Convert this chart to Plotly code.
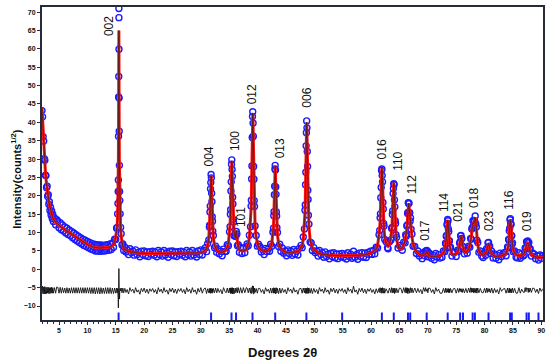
import plotly.graph_objects as go

# ---------------- data ----------------
# low-angle background (2-15 deg)
x_low = [2.0, 2.1, 2.2, 2.3, 2.4, 2.5, 2.6, 2.7, 2.8, 2.9, 3.0, 3.1, 3.2, 3.3, 3.4, 3.5, 3.6, 3.7, 3.8, 3.9, 4.0,
         4.2, 4.4, 4.6, 4.8, 5.0, 5.2, 5.4, 5.6, 5.8, 6.0, 6.2, 6.4, 6.6, 6.8, 7.0, 7.2, 7.4, 7.6, 7.8, 8.0,
         8.2, 8.4, 8.6, 8.8, 9.0, 9.2, 9.4, 9.6, 9.8, 10.0, 10.2, 10.4, 10.6, 10.8, 11.0, 11.2, 11.4, 11.6, 11.8, 12.0,
         12.2, 12.4, 12.6, 12.8, 13.0, 13.2, 13.4, 13.6, 13.8, 14.0, 14.2, 14.4, 14.6, 14.8, 15.0]
calc_low = [44.0, 40.3, 37.0, 33.9, 31.0, 28.6, 26.5, 24.6, 23.0, 21.7, 20.5, 19.4, 18.5, 17.6, 16.8, 16.1, 15.5, 15.0, 14.5, 14.1, 13.7,
            13.2, 12.8, 12.5, 12.2, 12.0, 11.8, 11.5, 11.3, 11.0, 10.8, 10.6, 10.4, 10.2, 10.0, 9.8, 9.5, 9.3, 9.1, 8.8, 8.6,
            8.4, 8.2, 8.0, 7.8, 7.6, 7.4, 7.2, 7.1, 6.9, 6.8, 6.6, 6.5, 6.3, 6.2, 6.1, 6.0, 5.9, 5.9, 5.8, 5.8,
            5.8, 5.8, 5.8, 5.8, 5.8, 5.8, 5.9, 5.9, 6.0, 6.1, 6.2, 6.5, 6.8, 7.5, 8.8]
obs_low = [43.2, 41.5, 36.1, 34.9, 30.1, 29.7, 25.6, 25.5, 22.2, 22.6, 19.8, 20.3, 17.7, 18.4, 16.0, 16.9, 14.8, 15.9, 13.8, 14.9, 13.0,
           14.0, 12.1, 13.5, 13.1, 11.3, 12.7, 10.8, 12.1, 10.4, 11.5, 9.9, 11.2, 9.5, 10.7, 9.1, 10.3, 8.6, 9.9, 8.1, 9.4,
           7.7, 9.0, 7.3, 8.6, 6.9, 8.2, 6.5, 7.9, 6.2, 7.6, 5.9, 7.3, 5.5, 7.0, 5.3, 6.8, 5.0, 6.7, 5.0, 6.6,
           4.9, 6.6, 5.0, 6.5, 5.0, 6.6, 5.1, 6.7, 5.2, 6.9, 5.4, 7.2, 6.0, 8.2, 8.1]

# 002 reflection
x_002 = [15.15, 15.25, 15.33, 15.39, 15.43, 15.46, 15.49, 15.51, 15.53, 15.55, 15.56, 15.57, 15.59, 15.61, 15.64, 15.67,
         15.71, 15.77, 15.85, 15.95, 16.1, 16.25, 16.4]
calc_002 = [10.5, 12.0, 14.5, 18.5, 23.5, 29.0, 37.5, 45.0, 54.0, 65.0, 63.0, 56.0, 46.0, 37.5, 29.0, 23.5,
            18.5, 14.5, 11.5, 9.0, 7.2, 6.2, 5.7]
obs_002 = [11.2, 11.4, 15.1, 17.9, 21.2, 24.3, 36.2, 46.9, 52.5, 71.0, 68.5, 59.9, 46.6, 37.6, 28.3, 21.2,
           18.7, 15.1, 11.4, 9.7, 6.6, 6.9, 5.1]

# background 16.6-30.5
x_bg1 = [16.6, 16.8, 17.0, 17.25, 17.5, 17.75, 18.0, 18.25, 18.5, 18.75, 19.0, 19.25, 19.5, 19.75,
         20.0, 20.25, 20.5, 20.75, 21.0, 21.25, 21.5, 21.75, 22.0, 22.25, 22.5, 22.75, 23.0, 23.25, 23.5, 23.75,
         24.0, 24.25, 24.5, 24.75, 25.0, 25.25, 25.5, 25.75, 26.0, 26.25, 26.5, 26.75, 27.0, 27.25, 27.5, 27.75,
         28.0, 28.25, 28.5, 28.75, 29.0, 29.25, 29.5, 29.75, 30.0, 30.25, 30.5]
calc_bg1 = [5.4, 5.2, 5.0, 4.9, 4.8, 4.7, 4.6, 4.55, 4.5, 4.45, 4.4, 4.4, 4.35, 4.35,
            4.3, 4.3, 4.3, 4.3, 4.3, 4.3, 4.3, 4.3, 4.3, 4.3, 4.3, 4.3, 4.3, 4.3, 4.3, 4.3,
            4.3, 4.3, 4.3, 4.3, 4.3, 4.3, 4.3, 4.3, 4.3, 4.3, 4.3, 4.3, 4.3, 4.3, 4.3, 4.3,
            4.3, 4.3, 4.3, 4.3, 4.35, 4.35, 4.4, 4.45, 4.5, 4.6, 4.8]
obs_bg1 = [6.0, 4.7, 5.3, 4.0, 5.6, 4.5, 5.0, 3.85, 5.3, 4.05, 4.6, 3.4, 4.95, 4.05,
           5.0, 3.7, 4.7, 3.5, 4.8, 4.1, 4.9, 3.8, 4.6, 3.4, 5.1, 4.0, 4.7, 3.6, 5.1, 3.9,
           4.5, 3.3, 4.9, 4.0, 5.0, 3.7, 4.7, 3.5, 4.8, 4.1, 4.9, 3.8, 4.6, 3.4, 5.1, 4.0,
           4.7, 3.6, 5.1, 3.9, 4.55, 3.35, 5.0, 4.05, 5.3, 3.9, 5.2]

# 004
x_004 = [30.8, 31.0, 31.2, 31.4, 31.5, 31.55, 31.6, 31.65, 31.7, 31.75, 31.8, 31.85, 31.9, 31.95, 32.0, 32.05, 32.1, 32.2, 32.4, 32.6, 32.8]
calc_004 = [5.2, 5.6, 6.5, 8.6, 10.9, 12.6, 15.0, 17.9, 21.3, 24.3, 25.5, 24.3, 21.3, 17.9, 15.0, 12.6, 10.9, 8.6, 6.5, 5.6, 5.2]
obs_004 = [5.9, 4.8, 7.0, 8.0, 11.5, 12.0, 15.6, 17.2, 21.9, 23.6, 25.8, 24.9, 20.7, 18.4, 14.3, 13.1, 10.4, 9.2, 5.9, 6.3, 4.6]

x_bg2 = [33.0, 33.25, 33.5, 33.75, 34.0, 34.25]
calc_bg2 = [4.9, 4.7, 4.6, 4.6, 4.7, 5.0]
obs_bg2 = [5.5, 4.2, 4.9, 3.7, 5.5, 4.8]

# 100 + 101
x_100 = [34.45, 34.65, 34.85, 35.05, 35.15, 35.2, 35.25, 35.3, 35.35, 35.4, 35.45, 35.5, 35.55, 35.6, 35.65, 35.7, 35.75,
         35.85, 36.05, 36.15, 36.25, 36.35, 36.45, 36.6, 36.8, 37.0, 37.25, 37.5, 37.75, 38.0]
calc_100 = [5.5, 6.0, 7.0, 9.5, 12.2, 14.3, 17.0, 20.5, 24.5, 28.0, 29.5, 28.0, 24.5, 20.5, 17.0, 14.3, 12.2,
            10.0, 8.6, 9.5, 10.5, 8.8, 7.0, 5.9, 5.3, 5.1, 5.0, 5.0, 5.1, 5.3]
obs_100 = [4.9, 6.7, 6.4, 10.2, 11.6, 15.0, 16.2, 21.3, 23.8, 28.6, 29.8, 27.2, 25.3, 19.6, 17.8, 13.6, 12.9,
           9.1, 9.3, 8.9, 10.3, 9.6, 6.4, 6.7, 4.6, 5.9, 4.3, 5.8, 4.5, 6.1]

# 012
x_012 = [38.15, 38.35, 38.55, 38.75, 38.85, 38.9, 38.95, 39.0, 39.05, 39.1, 39.15, 39.2, 39.25, 39.3, 39.35, 39.4, 39.45, 39.55, 39.75, 39.95, 40.15]
calc_012 = [6.2, 7.0, 8.6, 12.3, 16.4, 19.5, 23.7, 28.9, 35.0, 40.3, 42.5, 40.3, 35.0, 28.9, 23.7, 19.5, 16.4, 12.3, 8.6, 7.0, 6.2]
obs_012 = [6.9, 6.4, 9.3, 11.6, 17.2, 18.8, 24.6, 28.1, 35.9, 41.6, 42.9, 39.8, 36.2, 28.0, 24.5, 18.7, 17.1, 11.8, 9.2, 6.3, 6.8]

x_bg3 = [40.4, 40.65, 40.9, 41.15, 41.4, 41.65, 41.9]
calc_bg3 = [5.6, 5.2, 5.0, 4.9, 4.9, 5.0, 5.2]
obs_bg3 = [6.2, 4.7, 5.3, 4.0, 5.7, 4.8, 5.6]

# 013
x_013 = [42.1, 42.3, 42.5, 42.7, 42.8, 42.85, 42.9, 42.95, 43.0, 43.05, 43.1, 43.15, 43.2, 43.25, 43.3, 43.35, 43.4, 43.5, 43.7, 43.9, 44.1]
calc_013 = [5.6, 6.1, 7.0, 9.4, 11.9, 13.8, 16.4, 19.6, 23.3, 26.6, 28.0, 26.6, 23.3, 19.6, 16.4, 13.8, 11.9, 9.4, 7.0, 6.1, 5.6]
obs_013 = [4.9, 6.8, 6.3, 10.1, 11.2, 14.6, 15.7, 20.3, 22.6, 27.3, 28.3, 27.0, 22.4, 20.4, 15.6, 14.5, 11.3, 10.0, 6.2, 6.8, 4.9]

x_bg4 = [44.35, 44.6, 44.85, 45.1, 45.35, 45.6, 45.85, 46.1, 46.35, 46.6, 46.85, 47.1, 47.35]
calc_bg4 = [5.2, 4.9, 4.7, 4.6, 4.5, 4.5, 4.5, 4.5, 4.6, 4.6, 4.7, 4.9, 5.2]
obs_bg4 = [5.8, 4.4, 5.0, 3.7, 5.3, 4.3, 4.9, 3.8, 5.4, 4.2, 4.9, 3.9, 5.7]

# 006
x_006 = [47.65, 47.85, 48.05, 48.25, 48.35, 48.4, 48.45, 48.5, 48.55, 48.6, 48.65, 48.7, 48.75, 48.8, 48.85, 48.9, 48.95, 49.05, 49.25, 49.45, 49.65]
calc_006 = [5.9, 6.6, 8.1, 11.6, 15.4, 18.3, 22.3, 27.2, 32.9, 37.9, 40.0, 37.9, 32.9, 27.2, 22.3, 18.3, 15.4, 11.6, 8.1, 6.6, 5.9]
obs_006 = [6.5, 5.9, 8.8, 11.0, 16.1, 17.5, 23.0, 26.4, 33.6, 37.2, 40.4, 38.5, 32.1, 28.0, 21.5, 19.0, 14.7, 12.3, 7.4, 7.2, 5.1]

x_bg5 = [49.9, 50.15, 50.4, 50.65, 50.9, 51.15, 51.4, 51.65, 51.9, 52.15, 52.4, 52.65, 52.9, 53.15, 53.4, 53.65,
         53.9, 54.15, 54.4, 54.65, 54.9, 55.15, 55.4, 55.65, 55.9, 56.15, 56.4, 56.65, 56.9, 57.15, 57.4, 57.65,
         57.9, 58.15, 58.4, 58.65, 58.9, 59.15, 59.4, 59.65, 59.9, 60.15, 60.4, 60.65]
calc_bg5 = [5.3, 5.0, 4.7, 4.5, 4.3, 4.2, 4.1, 4.0, 3.95, 3.9, 3.9, 3.85, 3.8, 3.8, 3.8, 3.75,
            3.75, 3.7, 3.7, 3.7, 3.7, 3.7, 3.7, 3.7, 3.7, 3.7, 3.7, 3.7, 3.7, 3.7, 3.75, 3.75,
            3.8, 3.8, 3.85, 3.9, 3.95, 4.0, 4.1, 4.2, 4.35, 4.55, 4.8, 5.1]
obs_bg5 = [5.9, 4.5, 5.0, 3.6, 5.1, 4.0, 4.5, 3.3, 4.75, 3.5, 4.1, 2.85, 4.4, 3.5, 4.5, 3.15,
           4.15, 2.9, 4.2, 3.5, 4.3, 3.2, 4.0, 2.8, 4.5, 3.5, 4.1, 3.0, 4.9, 3.3, 3.95, 2.75,
           4.4, 3.5, 4.55, 3.3, 4.35, 3.2, 4.6, 4.0, 4.95, 4.05, 5.1, 4.2]

# 016
x_016 = [60.9, 61.15, 61.4, 61.52, 61.59, 61.65, 61.71, 61.78, 61.84, 61.9, 61.96, 62.02, 62.09, 62.15, 62.21, 62.28, 62.4, 62.65, 62.9]
calc_016 = [5.5, 6.4, 8.8, 11.1, 13.2, 15.8, 18.8, 23.0, 26.2, 27.5, 26.2, 23.0, 18.8, 15.8, 13.2, 11.1, 8.8, 7.0, 6.5]
obs_016 = [6.0, 5.8, 9.4, 10.6, 14.0, 15.1, 19.5, 22.3, 26.9, 27.3, 25.5, 23.8, 18.2, 16.4, 12.5, 11.8, 8.1, 7.5, 5.9]

# 110
x_110 = [63.0, 63.25, 63.5, 63.62, 63.69, 63.75, 63.81, 63.88, 63.94, 64.0, 64.06, 64.12, 64.19, 64.25, 64.31, 64.38, 64.5, 64.75, 65.0]
calc_110 = [6.3, 6.8, 8.6, 10.3, 12.0, 14.1, 16.5, 19.9, 22.5, 23.6, 22.5, 19.7, 16.3, 13.8, 11.8, 10.0, 8.1, 6.4, 5.8]
obs_110 = [5.6, 7.5, 8.0, 11.1, 11.4, 14.9, 15.9, 20.6, 22.0, 23.3, 23.0, 18.9, 17.0, 13.2, 12.5, 9.4, 8.7, 5.8, 6.5]

# 112
x_112 = [65.25, 65.5, 65.75, 66.0, 66.1, 66.2, 66.3, 66.38, 66.44, 66.5, 66.56, 66.62, 66.68, 66.75, 66.81, 66.88, 66.95,
         67.05, 67.2, 67.4, 67.7, 68.0]
calc_112 = [5.5, 5.9, 6.6, 7.8, 8.6, 9.6, 11.0, 12.8, 14.5, 16.3, 17.6, 18.0, 17.4, 16.0, 14.8, 13.8, 13.2,
            11.5, 8.9, 6.9, 5.5, 4.9]
obs_112 = [6.1, 5.2, 7.4, 7.2, 9.4, 9.0, 11.8, 12.1, 15.2, 15.5, 18.1, 17.9, 18.0, 15.3, 15.4, 13.1, 14.0,
           10.9, 9.6, 6.3, 6.2, 4.3]

x_bg6 = [68.25, 68.5, 68.75, 69.0, 69.25]
calc_bg6 = [4.4, 4.1, 3.9, 3.8, 3.8]
obs_bg6 = [5.0, 3.6, 4.2, 2.9, 4.6]

# 017
x_017 = [69.45, 69.6, 69.7, 69.8, 69.9, 70.0, 70.15]
calc_017 = [3.9, 4.1, 4.5, 4.9, 4.5, 4.0, 3.8]
obs_017 = [3.7, 4.9, 4.3, 5.1, 5.0, 3.4, 4.5]

x_bg7 = [70.4, 70.65, 70.9, 71.15, 71.4, 71.65, 71.9, 72.15]
calc_bg7 = [3.6, 3.5, 3.5, 3.5, 3.5, 3.55, 3.6, 3.75]
obs_bg7 = [4.2, 3.0, 3.8, 2.6, 4.3, 3.35, 4.0, 3.05]

# 114
x_114 = [72.5, 72.75, 73.0, 73.12, 73.19, 73.25, 73.31, 73.38, 73.44, 73.5, 73.56, 73.62, 73.69, 73.75, 73.81, 73.88, 74.0, 74.25, 74.5]
calc_114 = [4.0, 4.4, 5.4, 6.4, 7.3, 8.4, 9.7, 11.5, 12.9, 13.4, 12.9, 11.5, 9.7, 8.4, 7.3, 6.4, 5.4, 4.2, 4.0]
obs_114 = [3.3, 5.0, 4.8, 7.1, 6.9, 9.0, 9.2, 12.1, 12.5, 13.6, 13.2, 11.0, 10.3, 7.8, 7.7, 5.9, 6.0, 3.6, 4.5]

# 021
x_021 = [74.75, 75.0, 75.25, 75.45, 75.6, 75.7, 75.78, 75.85, 75.92, 76.0, 76.1, 76.25, 76.45, 76.7]
calc_021 = [4.0, 4.2, 4.6, 5.4, 6.5, 7.7, 8.6, 9.0, 8.7, 7.9, 6.8, 5.6, 4.8, 4.6]
obs_021 = [4.6, 3.5, 5.2, 4.9, 7.1, 7.5, 9.1, 9.2, 8.3, 8.4, 6.3, 6.1, 4.2, 5.2]

# 018
x_018 = [76.95, 77.2, 77.4, 77.55, 77.65, 77.75, 77.85, 77.95, 78.05, 78.15, 78.25, 78.35, 78.45, 78.55, 78.65, 78.8, 79.0, 79.25, 79.5]
calc_018 = [5.0, 5.6, 6.5, 7.6, 8.7, 10.3, 11.8, 12.6, 12.4, 12.6, 13.6, 14.0, 13.0, 10.8, 8.6, 6.6, 5.2, 4.4, 4.1]
obs_018 = [4.4, 6.3, 6.0, 8.4, 8.2, 11.0, 11.4, 13.2, 11.8, 13.3, 13.1, 14.5, 12.4, 11.5, 7.9, 7.3, 4.6, 5.0, 3.6]

# 023
x_023 = [79.75, 80.0, 80.2, 80.35, 80.5, 80.6, 80.7, 80.8, 80.9, 81.05, 81.25, 81.5]
calc_023 = [3.8, 4.0, 4.4, 4.9, 5.8, 6.6, 7.0, 6.6, 5.8, 4.9, 4.2, 3.8]
obs_023 = [3.2, 4.6, 3.8, 5.6, 5.3, 7.2, 7.3, 6.2, 6.3, 4.3, 4.9, 3.1]

x_bg8 = [81.75, 82.0, 82.25, 82.5, 82.75, 83.0, 83.25]
calc_bg8 = [3.6, 3.5, 3.5, 3.5, 3.6, 3.7, 3.85]
obs_bg8 = [4.2, 3.0, 3.8, 2.6, 4.4, 3.5, 4.25]

# 116
x_116 = [83.55, 83.8, 84.05, 84.17, 84.24, 84.3, 84.36, 84.43, 84.49, 84.55, 84.61, 84.67, 84.74, 84.8, 84.86, 84.93, 85.05, 85.3, 85.55]
calc_116 = [4.0, 4.4, 5.4, 6.5, 7.4, 8.5, 9.8, 11.7, 13.0, 13.6, 13.0, 11.7, 9.8, 8.5, 7.4, 6.5, 5.4, 4.4, 4.0]
obs_116 = [4.6, 3.7, 6.1, 5.9, 8.1, 8.0, 10.5, 11.1, 13.5, 13.8, 12.5, 12.2, 9.2, 9.1, 6.8, 7.2, 4.8, 5.0, 3.3]

x_bg9 = [85.8, 86.05, 86.3, 86.55, 86.8]
calc_bg9 = [3.8, 3.7, 3.7, 3.8, 4.0]
obs_bg9 = [3.1, 4.5, 3.0, 4.2, 3.6]

# 019
x_019 = [87.0, 87.15, 87.3, 87.4, 87.5, 87.6, 87.7, 87.8, 87.9, 88.05, 88.25, 88.5]
calc_019 = [4.4, 5.0, 6.0, 6.7, 7.0, 7.1, 6.9, 6.6, 5.9, 4.9, 4.1, 3.7]
obs_019 = [3.9, 5.8, 5.7, 7.5, 7.4, 7.7, 6.4, 7.3, 5.5, 5.6, 3.6, 4.4]

x_bg10 = [88.75, 89.0, 89.25, 89.5, 89.75, 90.0, 90.25]
calc_bg10 = [3.5, 3.4, 3.3, 3.3, 3.2, 3.2, 3.2]
obs_bg10 = [4.1, 2.9, 3.7, 2.5, 3.9, 3.0, 3.7]

# Bragg reflection positions (blue ticks)
bragg_positions = [15.5, 31.8, 35.4, 36.2, 39.1, 43.1, 48.6, 54.9, 61.9, 64.0, 66.5, 66.9, 69.8, 73.5,
                   75.7, 76.2, 77.9, 78.3, 80.7, 84.5, 84.8, 87.4, 87.8, 89.5]
bragg_level = -12.9
diff_offset = -5.8

# hkl labels
hkl_labels = ["002", "004", "100", "101", "012", "013", "006", "016", "110", "112",
              "017", "114", "021", "018", "023", "116", "019"]
hkl_x = [13.7, 31.5, 35.9, 36.95, 39.0, 44.1, 48.8, 61.9, 64.6, 67.1,
         69.6, 72.9, 75.4, 78.0, 80.8, 84.3, 87.5]
hkl_y = [66.3, 30.8, 35.0, 14.3, 47.6, 32.9, 46.6, 32.6, 29.3, 23.0,
         10.4, 18.1, 15.8, 19.5, 13.2, 18.9, 13.1]

# ---------------- assemble ----------------
segments = [
    (x_low, calc_low, obs_low), (x_002, calc_002, obs_002), (x_bg1, calc_bg1, obs_bg1),
    (x_004, calc_004, obs_004), (x_bg2, calc_bg2, obs_bg2), (x_100, calc_100, obs_100),
    (x_012, calc_012, obs_012), (x_bg3, calc_bg3, obs_bg3), (x_013, calc_013, obs_013),
    (x_bg4, calc_bg4, obs_bg4), (x_006, calc_006, obs_006), (x_bg5, calc_bg5, obs_bg5),
    (x_016, calc_016, obs_016), (x_110, calc_110, obs_110), (x_112, calc_112, obs_112),
    (x_bg6, calc_bg6, obs_bg6), (x_017, calc_017, obs_017), (x_bg7, calc_bg7, obs_bg7),
    (x_114, calc_114, obs_114), (x_021, calc_021, obs_021), (x_018, calc_018, obs_018),
    (x_023, calc_023, obs_023), (x_bg8, calc_bg8, obs_bg8), (x_116, calc_116, obs_116),
    (x_bg9, calc_bg9, obs_bg9), (x_019, calc_019, obs_019), (x_bg10, calc_bg10, obs_bg10),
]
two_theta, y_calc, y_obs = [], [], []
for i, (a, b, c) in enumerate(segments):
    assert len(a) == len(b) == len(c), (i, len(a), len(b), len(c))
    two_theta += a
    y_calc += b
    y_obs += c
y_diff = [o - c + diff_offset for o, c in zip(y_obs, y_calc)]

fig = go.Figure()
fig.add_trace(go.Scatter(x=two_theta, y=y_obs, mode="markers",
                         marker=dict(symbol="circle-open", size=6, color="#1a1aff", line=dict(width=1.4)),
                         showlegend=False))
fig.add_trace(go.Scatter(x=two_theta, y=y_calc, mode="lines",
                         line=dict(color="#ff1010", width=3), showlegend=False))
fig.add_trace(go.Scatter(x=two_theta, y=y_calc, mode="lines",
                         line=dict(color="#222222", width=0.7), showlegend=False))
fig.add_trace(go.Scatter(x=two_theta, y=y_diff, mode="lines",
                         line=dict(color="#111111", width=0.9), showlegend=False))
fig.add_trace(go.Scatter(x=bragg_positions, y=[bragg_level] * len(bragg_positions), mode="markers",
                         marker=dict(symbol="line-ns", size=6, line=dict(color="#1a1aff", width=2)),
                         showlegend=False))

for lab, lx, ly in zip(hkl_labels, hkl_x, hkl_y):
    fig.add_annotation(x=lx, y=ly, text=lab, textangle=-90, showarrow=False,
                       font=dict(family="Liberation Sans, Arial", size=12, color="#111111"))

fig.add_annotation(xref="paper", yref="paper", x=-0.052, y=0.451, text="<b>Intensity(counts<sup>1/2</sup>)</b>",
                   textangle=-90, showarrow=False, xanchor="center", yanchor="middle",
                   font=dict(family="Liberation Sans, Arial", size=11, color="#111111"))
fig.add_annotation(xref="paper", yref="paper", x=0.481, y=-0.105, text="<b>Degrees 2θ</b>",
                   showarrow=False, xanchor="center", yanchor="middle",
                   font=dict(family="Liberation Sans, Arial", size=13, color="#111111"))

axis_common = dict(showgrid=False, zeroline=False, showline=True, linewidth=2, linecolor="#262b3a",
                   mirror=True, ticks="outside", ticklen=3, tickwidth=1, tickcolor="#262b3a",
                   tickfont=dict(family="Liberation Sans, Arial", size=7, color="#111111", weight="bold"))
fig.update_xaxes(range=[2, 90.3], tickmode="array", tickvals=list(range(5, 91, 5)),
                 minor=dict(dtick=1, ticks="outside", ticklen=2, tickcolor="#262b3a"), **axis_common)
fig.update_yaxes(range=[-13.8, 71.4], tick0=0, dtick=5, **axis_common)

fig.update_layout(width=550, height=364, margin=dict(l=42, r=7, t=5, b=44),
                  paper_bgcolor="white", plot_bgcolor="white")
fig.write_html("out.html", config={"displayModeBar": False},
               post_script="document.body.style.margin='0';")
